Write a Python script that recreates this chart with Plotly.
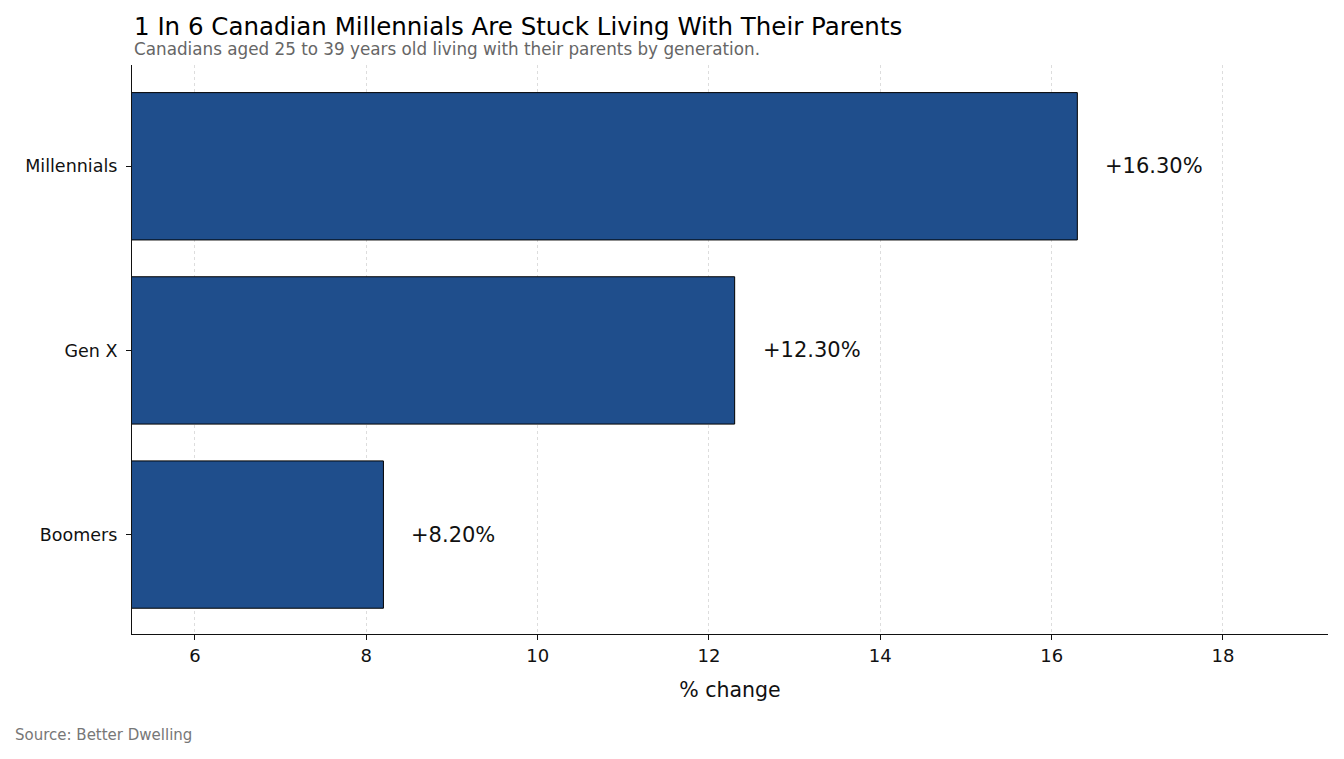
import plotly.graph_objects as go

categories = ["Boomers", "Gen X", "Millennials"]
values = [8.2, 12.3, 16.3]
labels = ["+8.20%", "+12.30%", "+16.30%"]
tick_vals = [6, 8, 10, 12, 14, 16, 18]

FONT = "'DejaVu Sans', sans-serif"

fig = go.Figure()
fig.add_trace(go.Bar(
    y=categories, x=values, orientation="h", width=0.8,
    marker=dict(color="#1f4e8c", line=dict(color="#000000", width=1)),
    hoverinfo="skip", showlegend=False,
))
for c, v, t in zip(categories, values, labels):
    fig.add_annotation(x=v, y=c, text=t, showarrow=False, xanchor="left",
                       xshift=26, font=dict(size=21, color="#111111", family=FONT))

fig.update_layout(
    width=1344, height=759,
    margin=dict(l=132, r=16, t=65, b=125),
    plot_bgcolor="white", paper_bgcolor="white",
    font=dict(family=FONT, color="#111111"),
    xaxis=dict(range=[5.265, 19.226], tickvals=tick_vals, showgrid=True,
               gridcolor="#dddddd", griddash="dot", gridwidth=1,
               showline=True, linecolor="#111111", linewidth=1.2,
               ticks="outside", ticklen=5, tickcolor="#111111",
               tickfont=dict(size=18), zeroline=False,
               title=dict(text="% change", font=dict(size=20.5), standoff=17)),
    yaxis=dict(range=[-0.54, 2.55], showgrid=False, showline=True,
               linecolor="#111111", linewidth=1.2, ticks="outside",
               ticklen=5, tickcolor="#111111", tickfont=dict(size=17.5),
               ticklabelstandoff=5),
)
fig.add_annotation(xref="paper", yref="paper", x=0, y=1, yshift=39,
                   xanchor="left", yanchor="middle", showarrow=False,
                   text="1 In 6 Canadian Millennials Are Stuck Living With Their Parents",
                   font=dict(size=24.5, color="#000000"))
fig.add_annotation(xref="paper", yref="paper", x=0, y=1, yshift=16,
                   xanchor="left", yanchor="middle", showarrow=False,
                   text="Canadians aged 25 to 39 years old living with their parents by generation.",
                   font=dict(size=16.8, color="#666666"))
fig.add_annotation(xref="paper", yref="paper", x=-119/1196, y=0, yshift=-101,
                   xanchor="left", yanchor="middle", showarrow=False,
                   text="Source: Better Dwelling", font=dict(size=15, color="#777777"))

fig.write_html("out.html")
